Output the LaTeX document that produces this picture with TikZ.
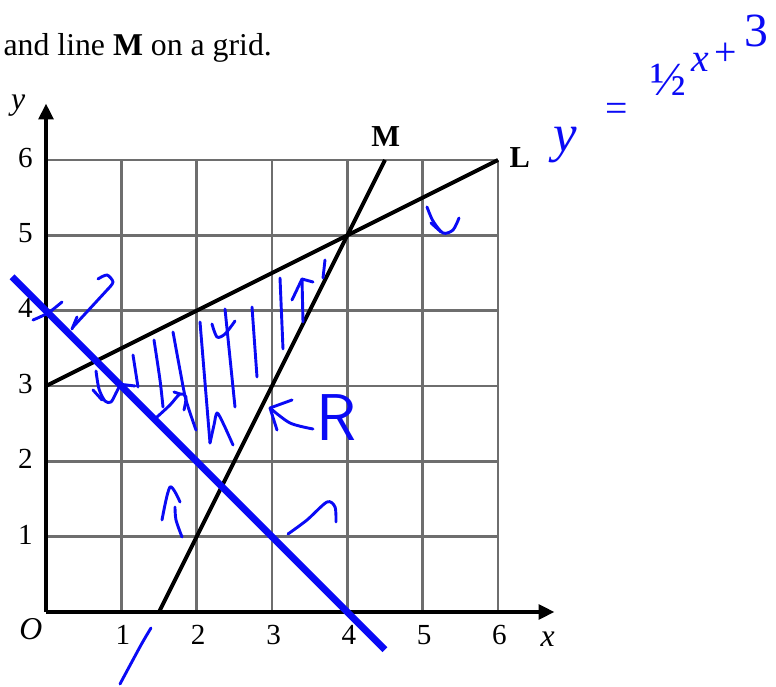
\documentclass[tikz,border=0pt]{standalone}
\usepackage{fontspec}
\setmainfont{Liberation Serif}
\usetikzlibrary{arrows.meta, positioning}
\definecolor{GridGray}{HTML}{6E6E6E}
\definecolor{InkBlue}{HTML}{0A0AF5}

\begin{document}
\begin{tikzpicture}[
   gridline/.style={GridGray, line width=1.1pt},
   axis/.style={-{Triangle[length=6pt,width=5.5pt]}, line width=1.5pt},
   graphline/.style={line width=1.5pt},
   blueline/.style={InkBlue, line width=2.6pt},
   ink/.style={InkBlue, line width=1.1pt, line cap=round, line join=round},
   inktext/.style={InkBlue, inner sep=0pt, font=\fontsize{#1}{#1}\selectfont},
   inktext/.default=20,
   ticklab/.style={font=\fontsize{11}{11}\selectfont, inner sep=0pt},
   linelab/.style={font=\fontsize{11.5}{11.5}\selectfont\bfseries, inner sep=0pt}
]
   \useasboundingbox (-0.611,-0.983) rectangle (9.690,8.124);
   % Caption
   \node[anchor=base west, inner sep=0pt, font=\fontsize{12}{14}\selectfont]
      (caption) at (-0.57,7.39) {and line \textbf{M} on a grid.};
   % Grid
   \foreach \i in {1,...,6} {
      \draw[gridline] (\i,0) -- (\i,6);
      \draw[gridline] (0,\i) -- (6,\i);
   }
   % Axes
   \coordinate (O) at (0,0);
   \coordinate (xend) at (6.75,0);
   \coordinate (yend) at (0,6.75);
   \draw[axis] (O) -- (xend);
   \draw[axis] (O) -- (yend);
   \node[ticklab, font=\fontsize{12}{12}\selectfont\itshape] (xlab) at (6.66,-0.36) {x};
   \node[ticklab, font=\fontsize{12}{12}\selectfont\itshape] (ylab) at (-0.37,6.72) {y};
   \node[ticklab, font=\fontsize{12}{12}\selectfont\itshape] (olab) at (-0.2,-0.23) {O};
   \foreach \i in {1,...,6} {
      \node[ticklab] (xt\i) at (\i+0.02,-0.31) {\i};
      \node[ticklab, anchor=east] (yt\i) at (-0.17,\i+0.03) {\i};
   }
   % Line L: y = x/2 + 3
   \coordinate (L0) at (0,3);
   \coordinate (L1) at (6,6);
   \draw[graphline] (L0) -- (L1);
   \node[linelab] (Llab) at (6.29,6.03) {L};
   % Line M: y = 2x - 3
   \coordinate (M0) at (1.5,0);
   \coordinate (M1) at (4.5,6);
   \draw[graphline] (M0) -- (M1);
   \node[linelab] (Mlab) at (4.51,6.31) {M};
   % Blue line: x + y = 4
   \coordinate (B0) at (-0.45,4.45);
   \coordinate (B1) at (4.5,-0.5);
   \draw[blueline] (B0) -- (B1);
   % Handwritten equation of L
   \node[inktext] (eqy) at (6.89,6.20) {\textit{y}};
   \node[inktext=15] (eqeq) at (7.58,6.63) {=};
   \node[inktext=18] (eqhalf) at (8.26,7.06) {½};
   \node[inktext=15] (eqx) at (8.68,7.29) {\textit{x}};
   \node[inktext=15] (eqplus) at (9.02,7.40) {+};
   \node[inktext=18] (eqthree) at (9.43,7.71) {3};
   \node[inktext=25, font=\fontsize{25}{25}\selectfont\sffamily]
      (Rlab) at (3.85,2.575) {R};
   \begin{scope}[shift={(-0.611cm,8.124cm)}, x=0.013275cm, y=-0.013275cm]
      % arrow under L
      \draw[ink] plot[smooth] coordinates {(427,207) (433,221) (443,233) (453,230) (459,218)};
      \draw[ink] (431,223) -- (441,232);
      % mark at (0,4) and curled arrow
      \draw[ink] plot[smooth] coordinates {(33,320) (48,313) (62,302)};
      \draw[ink] plot[smooth] coordinates {(98,279) (107,275) (113,282) (108,289)} -- (73,327);
      \draw[ink] (77,317) -- (72,329);
      % hook near (1,3)
      \draw[ink] plot[smooth] coordinates {(96,371) (99,389) (105,401) (111,402) (116,393) (120,385)};
      \draw[ink] (118,384) -- (135,386);
      \draw[ink] (93,390) -- (102,400);
      % shading strokes
      \draw[ink] (133,355) -- (138,387);
      \draw[ink] plot[smooth] coordinates {(154,340) (160,380) (163,407)};
      \draw[ink] plot[smooth] coordinates {(157,417) (170,405) (180,394) (186,397) (184,410)};
      \draw[ink] (174,392) -- (180,394);
      \draw[ink] plot[smooth] coordinates {(173,332) (180,370) (186,400) (196,430)};
      \draw[ink] (200,322) -- (210,443);
      \draw[ink] plot[smooth] coordinates {(210,443) (214,425) (217,413) (223,423) (233,445)};
      \draw[ink] plot[smooth] coordinates {(212,324) (217,337) (225,334) (235,321)};
      \draw[ink] (225,309) -- (235,407);
      \draw[ink] (252,307) -- (257,377);
      \draw[ink] (280,278) -- (283,349);
      \draw[ink] (292,300) -- (302,279) -- (313,282);
      \draw[ink] (302,279) -- (303,322);
      \draw[ink] (325,260) -- (323,278);
      % arrow pointing at R
      \draw[ink] plot[smooth] coordinates {(270,408) (290,423) (313,429)};
      \draw[ink] (292,400) -- (270,408) -- (277,430);
      % arrows below
      \draw[ink] plot[smooth] coordinates {(182,537) (176,520) (175,507)};
      \draw[ink] plot[smooth] coordinates {(162,520) (170,487) (180,502)};
      \draw[ink] plot[smooth] coordinates {(288,534) (307,520) (327,502) (335,507) (336,522)};
      \draw[ink] plot[smooth] coordinates {(151,628) (141,645) (120,684)};
   \end{scope}
\end{tikzpicture}
\end{document}
